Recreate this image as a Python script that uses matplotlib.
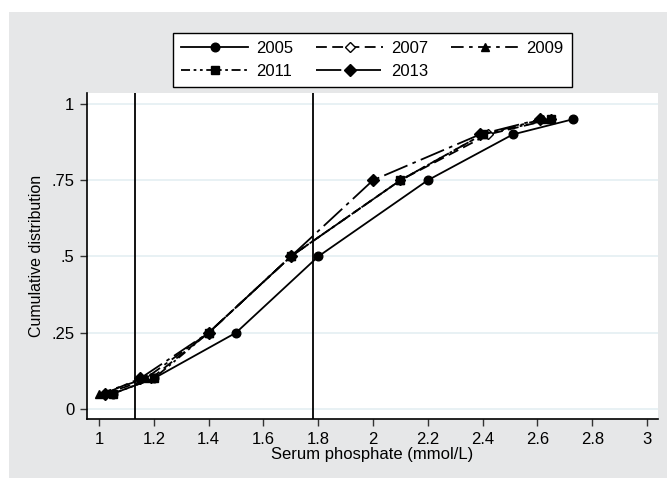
import matplotlib
matplotlib.use("Agg")
import matplotlib.pyplot as plt
from matplotlib.patches import Rectangle

plt.rcParams['font.family'] = ['Liberation Sans', 'DejaVu Sans']

probs = [0.05, 0.10, 0.25, 0.50, 0.75, 0.90, 0.95]
x2005 = [1.05, 1.20, 1.50, 1.80, 2.20, 2.51, 2.73]
x2007 = [1.02, 1.19, 1.40, 1.70, 2.10, 2.42, 2.65]
x2009 = [1.00, 1.17, 1.40, 1.70, 2.10, 2.40, 2.62]
x2011 = [1.05, 1.20, 1.40, 1.70, 2.10, 2.40, 2.65]
x2013 = [1.02, 1.15, 1.40, 1.70, 2.00, 2.39, 2.61]
vlines = [1.13, 1.78]
xticks = [1, 1.2, 1.4, 1.6, 1.8, 2, 2.2, 2.4, 2.6, 2.8, 3]
xticklabels = ['1', '1.2', '1.4', '1.6', '1.8', '2', '2.2', '2.4', '2.6', '2.8', '3']
yticks = [0, 0.25, 0.5, 0.75, 1]
yticklabels = ['0', '.25', '.5', '.75', '1']

W, H = 667, 478
fig = plt.figure(figsize=(W/100, H/100), dpi=100)
fig.patch.set_facecolor('white')
bg = Rectangle((9/W, 0), 1 - 9/W, 1 - 12/H, transform=fig.transFigure,
               facecolor='#e6e7e8', edgecolor='none', zorder=-10)
fig.patches.append(bg)

ax = fig.add_axes([87/W, (H-419)/H, (658-87)/W, (419-93)/H])
ax.set_zorder(1)
ax.set_facecolor('white')

lw = 1.3
ms = 6.2
series = [
    ('2005', x2005, dict(linestyle='-', marker='o', mfc='black', ms=ms)),
    ('2007', x2007, dict(linestyle=(0, (6, 3)), marker='D', mfc='white', ms=ms-1)),
    ('2009', x2009, dict(linestyle=(0, (7, 3, 2, 3)), marker='^', mfc='black', ms=ms)),
    ('2011', x2011, dict(linestyle=(0, (5, 2, 1.5, 2, 1.5, 2)), marker='s', mfc='black', ms=ms-1)),
    ('2013', x2013, dict(linestyle=(0, (14, 3, 2, 3)), marker='D', mfc='black', ms=ms-0.5)),
]
handles = {}
for name, xs, st in series:
    h, = ax.plot(xs, probs, color='black', lw=lw, mec='black', label=name, zorder=3, **st)
    handles[name] = h

for v in vlines:
    ax.axvline(v, color='black', lw=1.3, zorder=2)

ax.set_xlim(0.956, 3.04)
ax.set_ylim(-0.033, 1.036)
ax.set_xticks(xticks)
ax.set_xticklabels(xticklabels)
ax.set_yticks(yticks)
ax.set_yticklabels(yticklabels)
ax.grid(axis='y', color='#e4eff2', lw=1.2, zorder=0)
ax.tick_params(axis='both', direction='out', length=5, width=1, color='#333333',
               labelsize=12, pad=4)
for s in ['top', 'right']:
    ax.spines[s].set_visible(False)
for s in ['left', 'bottom']:
    ax.spines[s].set_color('black')
    ax.spines[s].set_linewidth(1.2)

ax.set_xlabel('Serum phosphate (mmol/L)', fontsize=12, labelpad=0)
ax.set_ylabel('Cumulative distribution', fontsize=11.5, labelpad=5)

order = ['2005', '2011', '2007', '2013', '2009']
leg = fig.legend([handles[k] for k in order], order, ncol=3,
                 loc='upper left', bbox_to_anchor=(173/W, 1 - 87/H, (572-173)/W, (87-33)/H),
                 mode='expand', fontsize=12, handlelength=4.0, numpoints=1,
                 frameon=True, fancybox=False, edgecolor='black', framealpha=1,
                 borderaxespad=0, borderpad=0.5, labelspacing=0.45, columnspacing=1.0,
                 handletextpad=0.5)
leg.get_frame().set_linewidth(1.0)
leg.set_zorder(5)

fig.savefig('out.png', dpi=100, facecolor=fig.get_facecolor())
